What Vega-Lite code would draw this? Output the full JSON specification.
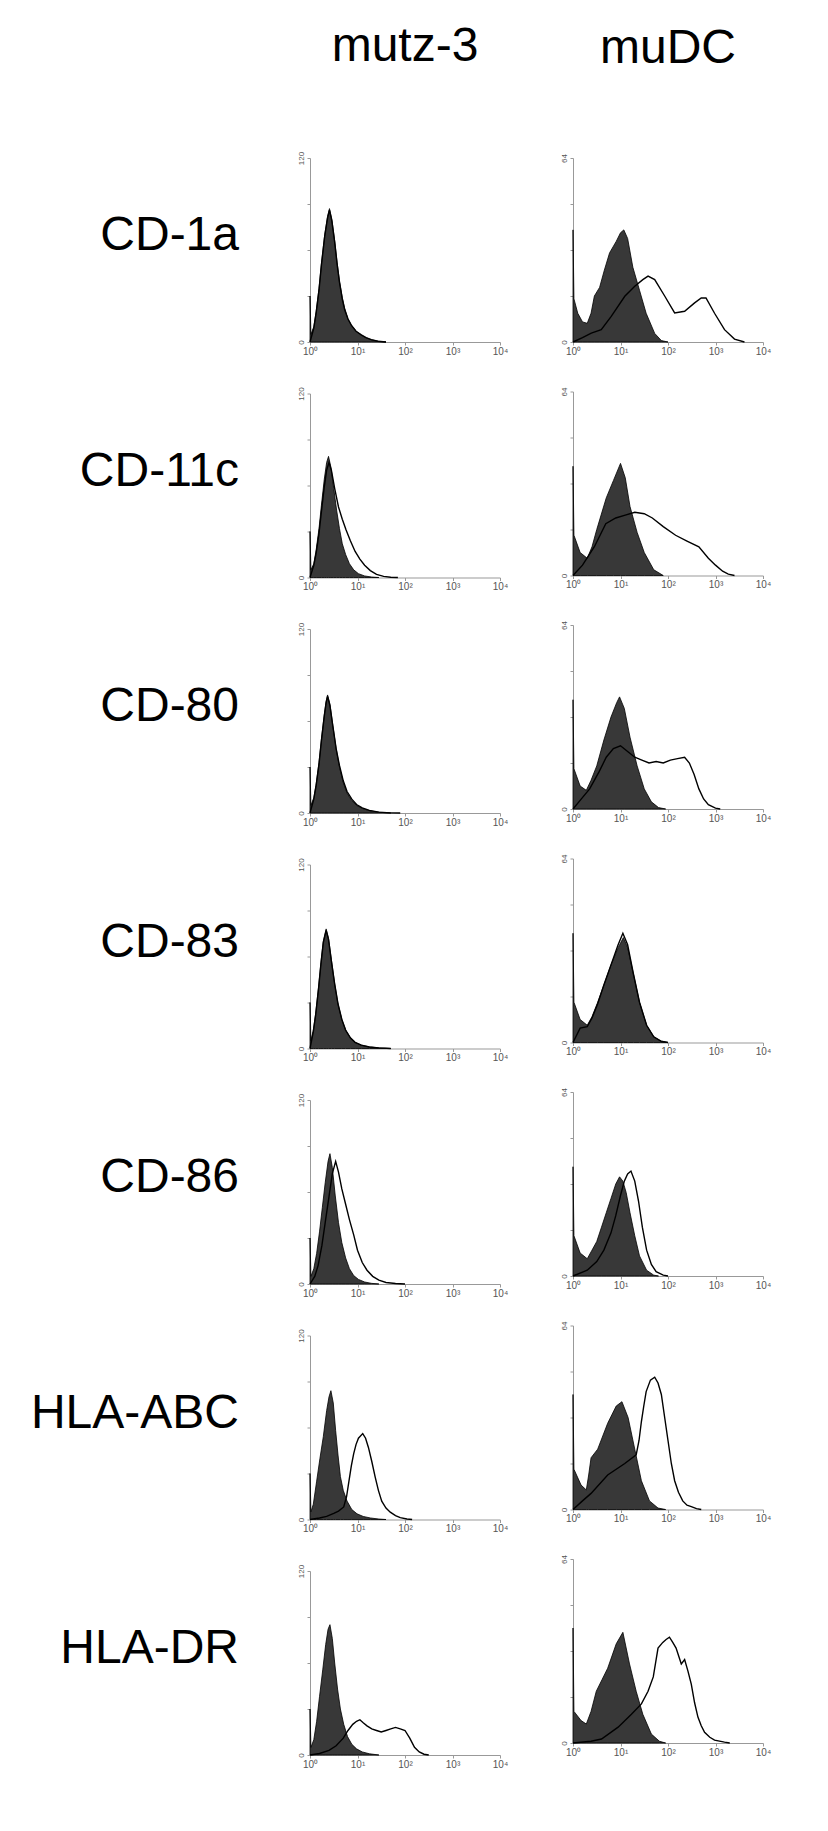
{
"$schema": "https://vega.github.io/schema/vega-lite/v6.json",
"background": "white",
"padding": {"left": 30, "top": 23, "right": 5, "bottom": 5},
"config": {"view": {"stroke": null}, "font": "Liberation Sans"},
"datasets": {
"mutz": [
{"cell":"mutz-3","marker":"CD-1a","series":"iso","x":0,"y":30},{"cell":"mutz-3","marker":"CD-1a","series":"iso","x":0.02,"y":5},{"cell":"mutz-3","marker":"CD-1a","series":"iso","x":0.08,"y":10},{"cell":"mutz-3","marker":"CD-1a","series":"iso","x":0.13,"y":20},{"cell":"mutz-3","marker":"CD-1a","series":"iso","x":0.19,"y":35},{"cell":"mutz-3","marker":"CD-1a","series":"iso","x":0.24,"y":51},{"cell":"mutz-3","marker":"CD-1a","series":"iso","x":0.31,"y":70},{"cell":"mutz-3","marker":"CD-1a","series":"iso","x":0.37,"y":82},{"cell":"mutz-3","marker":"CD-1a","series":"iso","x":0.41,"y":87},{"cell":"mutz-3","marker":"CD-1a","series":"iso","x":0.46,"y":80},{"cell":"mutz-3","marker":"CD-1a","series":"iso","x":0.52,"y":66},{"cell":"mutz-3","marker":"CD-1a","series":"iso","x":0.57,"y":52},{"cell":"mutz-3","marker":"CD-1a","series":"iso","x":0.62,"y":40},{"cell":"mutz-3","marker":"CD-1a","series":"iso","x":0.68,"y":29},{"cell":"mutz-3","marker":"CD-1a","series":"iso","x":0.73,"y":22},{"cell":"mutz-3","marker":"CD-1a","series":"iso","x":0.8,"y":15},{"cell":"mutz-3","marker":"CD-1a","series":"iso","x":0.87,"y":11},{"cell":"mutz-3","marker":"CD-1a","series":"iso","x":0.97,"y":7},{"cell":"mutz-3","marker":"CD-1a","series":"iso","x":1.08,"y":4.6},{"cell":"mutz-3","marker":"CD-1a","series":"iso","x":1.18,"y":2.8},{"cell":"mutz-3","marker":"CD-1a","series":"iso","x":1.29,"y":1.5},{"cell":"mutz-3","marker":"CD-1a","series":"iso","x":1.43,"y":0.5},{"cell":"mutz-3","marker":"CD-1a","series":"iso","x":1.6,"y":0},
{"cell":"mutz-3","marker":"CD-1a","series":"stain","x":0,"y":0},{"cell":"mutz-3","marker":"CD-1a","series":"stain","x":0.08,"y":9},{"cell":"mutz-3","marker":"CD-1a","series":"stain","x":0.13,"y":19},{"cell":"mutz-3","marker":"CD-1a","series":"stain","x":0.19,"y":34},{"cell":"mutz-3","marker":"CD-1a","series":"stain","x":0.24,"y":50},{"cell":"mutz-3","marker":"CD-1a","series":"stain","x":0.31,"y":69},{"cell":"mutz-3","marker":"CD-1a","series":"stain","x":0.37,"y":81},{"cell":"mutz-3","marker":"CD-1a","series":"stain","x":0.41,"y":86},{"cell":"mutz-3","marker":"CD-1a","series":"stain","x":0.46,"y":79},{"cell":"mutz-3","marker":"CD-1a","series":"stain","x":0.52,"y":65},{"cell":"mutz-3","marker":"CD-1a","series":"stain","x":0.57,"y":51},{"cell":"mutz-3","marker":"CD-1a","series":"stain","x":0.62,"y":39},{"cell":"mutz-3","marker":"CD-1a","series":"stain","x":0.68,"y":28},{"cell":"mutz-3","marker":"CD-1a","series":"stain","x":0.73,"y":21},{"cell":"mutz-3","marker":"CD-1a","series":"stain","x":0.8,"y":15},{"cell":"mutz-3","marker":"CD-1a","series":"stain","x":0.87,"y":11},{"cell":"mutz-3","marker":"CD-1a","series":"stain","x":0.97,"y":7},{"cell":"mutz-3","marker":"CD-1a","series":"stain","x":1.08,"y":4.6},{"cell":"mutz-3","marker":"CD-1a","series":"stain","x":1.18,"y":2.8},{"cell":"mutz-3","marker":"CD-1a","series":"stain","x":1.29,"y":1.5},{"cell":"mutz-3","marker":"CD-1a","series":"stain","x":1.43,"y":0.5},{"cell":"mutz-3","marker":"CD-1a","series":"stain","x":1.6,"y":0},
{"cell":"mutz-3","marker":"CD-11c","series":"iso","x":0,"y":30},{"cell":"mutz-3","marker":"CD-11c","series":"iso","x":0.02,"y":5},{"cell":"mutz-3","marker":"CD-11c","series":"iso","x":0.08,"y":9},{"cell":"mutz-3","marker":"CD-11c","series":"iso","x":0.13,"y":18},{"cell":"mutz-3","marker":"CD-11c","series":"iso","x":0.19,"y":32},{"cell":"mutz-3","marker":"CD-11c","series":"iso","x":0.24,"y":47},{"cell":"mutz-3","marker":"CD-11c","series":"iso","x":0.3,"y":64},{"cell":"mutz-3","marker":"CD-11c","series":"iso","x":0.35,"y":75},{"cell":"mutz-3","marker":"CD-11c","series":"iso","x":0.39,"y":79},{"cell":"mutz-3","marker":"CD-11c","series":"iso","x":0.44,"y":72},{"cell":"mutz-3","marker":"CD-11c","series":"iso","x":0.5,"y":58},{"cell":"mutz-3","marker":"CD-11c","series":"iso","x":0.56,"y":44},{"cell":"mutz-3","marker":"CD-11c","series":"iso","x":0.62,"y":32},{"cell":"mutz-3","marker":"CD-11c","series":"iso","x":0.68,"y":22},{"cell":"mutz-3","marker":"CD-11c","series":"iso","x":0.75,"y":15},{"cell":"mutz-3","marker":"CD-11c","series":"iso","x":0.83,"y":9},{"cell":"mutz-3","marker":"CD-11c","series":"iso","x":0.92,"y":5},{"cell":"mutz-3","marker":"CD-11c","series":"iso","x":1.02,"y":2.5},{"cell":"mutz-3","marker":"CD-11c","series":"iso","x":1.15,"y":1},{"cell":"mutz-3","marker":"CD-11c","series":"iso","x":1.3,"y":0.3},{"cell":"mutz-3","marker":"CD-11c","series":"iso","x":1.45,"y":0},
{"cell":"mutz-3","marker":"CD-11c","series":"stain","x":0,"y":0},{"cell":"mutz-3","marker":"CD-11c","series":"stain","x":0.08,"y":8},{"cell":"mutz-3","marker":"CD-11c","series":"stain","x":0.13,"y":16},{"cell":"mutz-3","marker":"CD-11c","series":"stain","x":0.19,"y":29},{"cell":"mutz-3","marker":"CD-11c","series":"stain","x":0.24,"y":43},{"cell":"mutz-3","marker":"CD-11c","series":"stain","x":0.3,"y":59},{"cell":"mutz-3","marker":"CD-11c","series":"stain","x":0.35,"y":70},{"cell":"mutz-3","marker":"CD-11c","series":"stain","x":0.4,"y":75},{"cell":"mutz-3","marker":"CD-11c","series":"stain","x":0.45,"y":70},{"cell":"mutz-3","marker":"CD-11c","series":"stain","x":0.52,"y":58},{"cell":"mutz-3","marker":"CD-11c","series":"stain","x":0.6,"y":46},{"cell":"mutz-3","marker":"CD-11c","series":"stain","x":0.68,"y":38},{"cell":"mutz-3","marker":"CD-11c","series":"stain","x":0.76,"y":31},{"cell":"mutz-3","marker":"CD-11c","series":"stain","x":0.85,"y":24},{"cell":"mutz-3","marker":"CD-11c","series":"stain","x":0.95,"y":17},{"cell":"mutz-3","marker":"CD-11c","series":"stain","x":1.05,"y":12},{"cell":"mutz-3","marker":"CD-11c","series":"stain","x":1.15,"y":8},{"cell":"mutz-3","marker":"CD-11c","series":"stain","x":1.27,"y":4.5},{"cell":"mutz-3","marker":"CD-11c","series":"stain","x":1.4,"y":2},{"cell":"mutz-3","marker":"CD-11c","series":"stain","x":1.55,"y":0.7},{"cell":"mutz-3","marker":"CD-11c","series":"stain","x":1.7,"y":0.2},{"cell":"mutz-3","marker":"CD-11c","series":"stain","x":1.85,"y":0},
{"cell":"mutz-3","marker":"CD-80","series":"iso","x":0,"y":30},{"cell":"mutz-3","marker":"CD-80","series":"iso","x":0.02,"y":5},{"cell":"mutz-3","marker":"CD-80","series":"iso","x":0.08,"y":10},{"cell":"mutz-3","marker":"CD-80","series":"iso","x":0.13,"y":19},{"cell":"mutz-3","marker":"CD-80","series":"iso","x":0.19,"y":33},{"cell":"mutz-3","marker":"CD-80","series":"iso","x":0.24,"y":48},{"cell":"mutz-3","marker":"CD-80","series":"iso","x":0.3,"y":64},{"cell":"mutz-3","marker":"CD-80","series":"iso","x":0.34,"y":73},{"cell":"mutz-3","marker":"CD-80","series":"iso","x":0.37,"y":77},{"cell":"mutz-3","marker":"CD-80","series":"iso","x":0.42,"y":71},{"cell":"mutz-3","marker":"CD-80","series":"iso","x":0.48,"y":57},{"cell":"mutz-3","marker":"CD-80","series":"iso","x":0.55,"y":42},{"cell":"mutz-3","marker":"CD-80","series":"iso","x":0.62,"y":30},{"cell":"mutz-3","marker":"CD-80","series":"iso","x":0.7,"y":20},{"cell":"mutz-3","marker":"CD-80","series":"iso","x":0.78,"y":13},{"cell":"mutz-3","marker":"CD-80","series":"iso","x":0.88,"y":8},{"cell":"mutz-3","marker":"CD-80","series":"iso","x":0.98,"y":5},{"cell":"mutz-3","marker":"CD-80","series":"iso","x":1.1,"y":3},{"cell":"mutz-3","marker":"CD-80","series":"iso","x":1.25,"y":1.5},{"cell":"mutz-3","marker":"CD-80","series":"iso","x":1.45,"y":0.5},{"cell":"mutz-3","marker":"CD-80","series":"iso","x":1.7,"y":0},
{"cell":"mutz-3","marker":"CD-80","series":"stain","x":0,"y":0},{"cell":"mutz-3","marker":"CD-80","series":"stain","x":0.08,"y":9},{"cell":"mutz-3","marker":"CD-80","series":"stain","x":0.13,"y":18},{"cell":"mutz-3","marker":"CD-80","series":"stain","x":0.19,"y":32},{"cell":"mutz-3","marker":"CD-80","series":"stain","x":0.24,"y":47},{"cell":"mutz-3","marker":"CD-80","series":"stain","x":0.3,"y":63},{"cell":"mutz-3","marker":"CD-80","series":"stain","x":0.34,"y":72},{"cell":"mutz-3","marker":"CD-80","series":"stain","x":0.37,"y":76},{"cell":"mutz-3","marker":"CD-80","series":"stain","x":0.42,"y":70},{"cell":"mutz-3","marker":"CD-80","series":"stain","x":0.48,"y":57},{"cell":"mutz-3","marker":"CD-80","series":"stain","x":0.55,"y":42},{"cell":"mutz-3","marker":"CD-80","series":"stain","x":0.62,"y":31},{"cell":"mutz-3","marker":"CD-80","series":"stain","x":0.7,"y":21},{"cell":"mutz-3","marker":"CD-80","series":"stain","x":0.78,"y":14},{"cell":"mutz-3","marker":"CD-80","series":"stain","x":0.88,"y":9},{"cell":"mutz-3","marker":"CD-80","series":"stain","x":0.98,"y":5.5},{"cell":"mutz-3","marker":"CD-80","series":"stain","x":1.1,"y":3.3},{"cell":"mutz-3","marker":"CD-80","series":"stain","x":1.25,"y":1.7},{"cell":"mutz-3","marker":"CD-80","series":"stain","x":1.45,"y":0.6},{"cell":"mutz-3","marker":"CD-80","series":"stain","x":1.7,"y":0.1},{"cell":"mutz-3","marker":"CD-80","series":"stain","x":1.9,"y":0},
{"cell":"mutz-3","marker":"CD-83","series":"iso","x":0,"y":30},{"cell":"mutz-3","marker":"CD-83","series":"iso","x":0.02,"y":5},{"cell":"mutz-3","marker":"CD-83","series":"iso","x":0.07,"y":12},{"cell":"mutz-3","marker":"CD-83","series":"iso","x":0.12,"y":23},{"cell":"mutz-3","marker":"CD-83","series":"iso","x":0.18,"y":40},{"cell":"mutz-3","marker":"CD-83","series":"iso","x":0.23,"y":56},{"cell":"mutz-3","marker":"CD-83","series":"iso","x":0.28,"y":70},{"cell":"mutz-3","marker":"CD-83","series":"iso","x":0.34,"y":78},{"cell":"mutz-3","marker":"CD-83","series":"iso","x":0.39,"y":72},{"cell":"mutz-3","marker":"CD-83","series":"iso","x":0.45,"y":58},{"cell":"mutz-3","marker":"CD-83","series":"iso","x":0.52,"y":42},{"cell":"mutz-3","marker":"CD-83","series":"iso","x":0.59,"y":29},{"cell":"mutz-3","marker":"CD-83","series":"iso","x":0.67,"y":19},{"cell":"mutz-3","marker":"CD-83","series":"iso","x":0.75,"y":12},{"cell":"mutz-3","marker":"CD-83","series":"iso","x":0.85,"y":7},{"cell":"mutz-3","marker":"CD-83","series":"iso","x":0.95,"y":4},{"cell":"mutz-3","marker":"CD-83","series":"iso","x":1.08,"y":2.2},{"cell":"mutz-3","marker":"CD-83","series":"iso","x":1.25,"y":1},{"cell":"mutz-3","marker":"CD-83","series":"iso","x":1.45,"y":0.4},{"cell":"mutz-3","marker":"CD-83","series":"iso","x":1.7,"y":0},
{"cell":"mutz-3","marker":"CD-83","series":"stain","x":0,"y":0},{"cell":"mutz-3","marker":"CD-83","series":"stain","x":0.07,"y":11},{"cell":"mutz-3","marker":"CD-83","series":"stain","x":0.12,"y":22},{"cell":"mutz-3","marker":"CD-83","series":"stain","x":0.18,"y":39},{"cell":"mutz-3","marker":"CD-83","series":"stain","x":0.23,"y":55},{"cell":"mutz-3","marker":"CD-83","series":"stain","x":0.28,"y":69},{"cell":"mutz-3","marker":"CD-83","series":"stain","x":0.34,"y":77},{"cell":"mutz-3","marker":"CD-83","series":"stain","x":0.39,"y":71},{"cell":"mutz-3","marker":"CD-83","series":"stain","x":0.45,"y":57},{"cell":"mutz-3","marker":"CD-83","series":"stain","x":0.52,"y":42},{"cell":"mutz-3","marker":"CD-83","series":"stain","x":0.59,"y":29},{"cell":"mutz-3","marker":"CD-83","series":"stain","x":0.67,"y":19},{"cell":"mutz-3","marker":"CD-83","series":"stain","x":0.75,"y":12},{"cell":"mutz-3","marker":"CD-83","series":"stain","x":0.85,"y":7},{"cell":"mutz-3","marker":"CD-83","series":"stain","x":0.95,"y":4},{"cell":"mutz-3","marker":"CD-83","series":"stain","x":1.08,"y":2.2},{"cell":"mutz-3","marker":"CD-83","series":"stain","x":1.25,"y":1},{"cell":"mutz-3","marker":"CD-83","series":"stain","x":1.45,"y":0.4},{"cell":"mutz-3","marker":"CD-83","series":"stain","x":1.7,"y":0},
{"cell":"mutz-3","marker":"CD-86","series":"iso","x":0,"y":30},{"cell":"mutz-3","marker":"CD-86","series":"iso","x":0.02,"y":5},{"cell":"mutz-3","marker":"CD-86","series":"iso","x":0.08,"y":10},{"cell":"mutz-3","marker":"CD-86","series":"iso","x":0.14,"y":20},{"cell":"mutz-3","marker":"CD-86","series":"iso","x":0.2,"y":34},{"cell":"mutz-3","marker":"CD-86","series":"iso","x":0.26,"y":50},{"cell":"mutz-3","marker":"CD-86","series":"iso","x":0.32,"y":66},{"cell":"mutz-3","marker":"CD-86","series":"iso","x":0.38,"y":80},{"cell":"mutz-3","marker":"CD-86","series":"iso","x":0.42,"y":85},{"cell":"mutz-3","marker":"CD-86","series":"iso","x":0.47,"y":76},{"cell":"mutz-3","marker":"CD-86","series":"iso","x":0.53,"y":58},{"cell":"mutz-3","marker":"CD-86","series":"iso","x":0.6,"y":40},{"cell":"mutz-3","marker":"CD-86","series":"iso","x":0.67,"y":27},{"cell":"mutz-3","marker":"CD-86","series":"iso","x":0.75,"y":17},{"cell":"mutz-3","marker":"CD-86","series":"iso","x":0.83,"y":10},{"cell":"mutz-3","marker":"CD-86","series":"iso","x":0.92,"y":5.5},{"cell":"mutz-3","marker":"CD-86","series":"iso","x":1.02,"y":3},{"cell":"mutz-3","marker":"CD-86","series":"iso","x":1.15,"y":1.3},{"cell":"mutz-3","marker":"CD-86","series":"iso","x":1.3,"y":0.4},{"cell":"mutz-3","marker":"CD-86","series":"iso","x":1.45,"y":0},
{"cell":"mutz-3","marker":"CD-86","series":"stain","x":0,"y":0},{"cell":"mutz-3","marker":"CD-86","series":"stain","x":0.1,"y":5},{"cell":"mutz-3","marker":"CD-86","series":"stain","x":0.17,"y":12},{"cell":"mutz-3","marker":"CD-86","series":"stain","x":0.25,"y":25},{"cell":"mutz-3","marker":"CD-86","series":"stain","x":0.32,"y":40},{"cell":"mutz-3","marker":"CD-86","series":"stain","x":0.4,"y":57},{"cell":"mutz-3","marker":"CD-86","series":"stain","x":0.47,"y":72},{"cell":"mutz-3","marker":"CD-86","series":"stain","x":0.54,"y":80},{"cell":"mutz-3","marker":"CD-86","series":"stain","x":0.6,"y":73},{"cell":"mutz-3","marker":"CD-86","series":"stain","x":0.67,"y":62},{"cell":"mutz-3","marker":"CD-86","series":"stain","x":0.75,"y":52},{"cell":"mutz-3","marker":"CD-86","series":"stain","x":0.83,"y":42},{"cell":"mutz-3","marker":"CD-86","series":"stain","x":0.92,"y":32},{"cell":"mutz-3","marker":"CD-86","series":"stain","x":1.0,"y":22},{"cell":"mutz-3","marker":"CD-86","series":"stain","x":1.1,"y":14},{"cell":"mutz-3","marker":"CD-86","series":"stain","x":1.2,"y":9},{"cell":"mutz-3","marker":"CD-86","series":"stain","x":1.32,"y":5},{"cell":"mutz-3","marker":"CD-86","series":"stain","x":1.45,"y":2.5},{"cell":"mutz-3","marker":"CD-86","series":"stain","x":1.6,"y":1},{"cell":"mutz-3","marker":"CD-86","series":"stain","x":1.8,"y":0.3},{"cell":"mutz-3","marker":"CD-86","series":"stain","x":2.0,"y":0},
{"cell":"mutz-3","marker":"HLA-ABC","series":"iso","x":0,"y":30},{"cell":"mutz-3","marker":"HLA-ABC","series":"iso","x":0.02,"y":5},{"cell":"mutz-3","marker":"HLA-ABC","series":"iso","x":0.07,"y":10},{"cell":"mutz-3","marker":"HLA-ABC","series":"iso","x":0.14,"y":25},{"cell":"mutz-3","marker":"HLA-ABC","series":"iso","x":0.21,"y":40},{"cell":"mutz-3","marker":"HLA-ABC","series":"iso","x":0.28,"y":54},{"cell":"mutz-3","marker":"HLA-ABC","series":"iso","x":0.35,"y":71},{"cell":"mutz-3","marker":"HLA-ABC","series":"iso","x":0.4,"y":80},{"cell":"mutz-3","marker":"HLA-ABC","series":"iso","x":0.44,"y":84},{"cell":"mutz-3","marker":"HLA-ABC","series":"iso","x":0.49,"y":76},{"cell":"mutz-3","marker":"HLA-ABC","series":"iso","x":0.54,"y":58},{"cell":"mutz-3","marker":"HLA-ABC","series":"iso","x":0.59,"y":42},{"cell":"mutz-3","marker":"HLA-ABC","series":"iso","x":0.64,"y":28},{"cell":"mutz-3","marker":"HLA-ABC","series":"iso","x":0.7,"y":19},{"cell":"mutz-3","marker":"HLA-ABC","series":"iso","x":0.78,"y":12},{"cell":"mutz-3","marker":"HLA-ABC","series":"iso","x":0.88,"y":6.5},{"cell":"mutz-3","marker":"HLA-ABC","series":"iso","x":0.99,"y":3.7},{"cell":"mutz-3","marker":"HLA-ABC","series":"iso","x":1.12,"y":2},{"cell":"mutz-3","marker":"HLA-ABC","series":"iso","x":1.27,"y":1},{"cell":"mutz-3","marker":"HLA-ABC","series":"iso","x":1.45,"y":0.3},{"cell":"mutz-3","marker":"HLA-ABC","series":"iso","x":1.6,"y":0},
{"cell":"mutz-3","marker":"HLA-ABC","series":"stain","x":0,"y":0},{"cell":"mutz-3","marker":"HLA-ABC","series":"stain","x":0.2,"y":1},{"cell":"mutz-3","marker":"HLA-ABC","series":"stain","x":0.35,"y":2},{"cell":"mutz-3","marker":"HLA-ABC","series":"stain","x":0.5,"y":4},{"cell":"mutz-3","marker":"HLA-ABC","series":"stain","x":0.6,"y":5.5},{"cell":"mutz-3","marker":"HLA-ABC","series":"stain","x":0.71,"y":8.2},{"cell":"mutz-3","marker":"HLA-ABC","series":"stain","x":0.77,"y":15},{"cell":"mutz-3","marker":"HLA-ABC","series":"stain","x":0.82,"y":25},{"cell":"mutz-3","marker":"HLA-ABC","series":"stain","x":0.87,"y":35},{"cell":"mutz-3","marker":"HLA-ABC","series":"stain","x":0.92,"y":43},{"cell":"mutz-3","marker":"HLA-ABC","series":"stain","x":0.97,"y":49},{"cell":"mutz-3","marker":"HLA-ABC","series":"stain","x":1.02,"y":53},{"cell":"mutz-3","marker":"HLA-ABC","series":"stain","x":1.11,"y":56},{"cell":"mutz-3","marker":"HLA-ABC","series":"stain","x":1.17,"y":53},{"cell":"mutz-3","marker":"HLA-ABC","series":"stain","x":1.23,"y":47},{"cell":"mutz-3","marker":"HLA-ABC","series":"stain","x":1.3,"y":38},{"cell":"mutz-3","marker":"HLA-ABC","series":"stain","x":1.37,"y":28},{"cell":"mutz-3","marker":"HLA-ABC","series":"stain","x":1.44,"y":19},{"cell":"mutz-3","marker":"HLA-ABC","series":"stain","x":1.51,"y":12},{"cell":"mutz-3","marker":"HLA-ABC","series":"stain","x":1.6,"y":7.5},{"cell":"mutz-3","marker":"HLA-ABC","series":"stain","x":1.69,"y":4.8},{"cell":"mutz-3","marker":"HLA-ABC","series":"stain","x":1.8,"y":2.5},{"cell":"mutz-3","marker":"HLA-ABC","series":"stain","x":1.9,"y":1.2},{"cell":"mutz-3","marker":"HLA-ABC","series":"stain","x":2.04,"y":0.3},{"cell":"mutz-3","marker":"HLA-ABC","series":"stain","x":2.15,"y":0},
{"cell":"mutz-3","marker":"HLA-DR","series":"iso","x":0,"y":30},{"cell":"mutz-3","marker":"HLA-DR","series":"iso","x":0.02,"y":5},{"cell":"mutz-3","marker":"HLA-DR","series":"iso","x":0.08,"y":10},{"cell":"mutz-3","marker":"HLA-DR","series":"iso","x":0.14,"y":22},{"cell":"mutz-3","marker":"HLA-DR","series":"iso","x":0.2,"y":38},{"cell":"mutz-3","marker":"HLA-DR","series":"iso","x":0.27,"y":56},{"cell":"mutz-3","marker":"HLA-DR","series":"iso","x":0.33,"y":72},{"cell":"mutz-3","marker":"HLA-DR","series":"iso","x":0.38,"y":82},{"cell":"mutz-3","marker":"HLA-DR","series":"iso","x":0.42,"y":85},{"cell":"mutz-3","marker":"HLA-DR","series":"iso","x":0.47,"y":76},{"cell":"mutz-3","marker":"HLA-DR","series":"iso","x":0.52,"y":60},{"cell":"mutz-3","marker":"HLA-DR","series":"iso","x":0.58,"y":43},{"cell":"mutz-3","marker":"HLA-DR","series":"iso","x":0.64,"y":30},{"cell":"mutz-3","marker":"HLA-DR","series":"iso","x":0.71,"y":20},{"cell":"mutz-3","marker":"HLA-DR","series":"iso","x":0.79,"y":12},{"cell":"mutz-3","marker":"HLA-DR","series":"iso","x":0.88,"y":7},{"cell":"mutz-3","marker":"HLA-DR","series":"iso","x":0.98,"y":4},{"cell":"mutz-3","marker":"HLA-DR","series":"iso","x":1.1,"y":2},{"cell":"mutz-3","marker":"HLA-DR","series":"iso","x":1.25,"y":0.8},{"cell":"mutz-3","marker":"HLA-DR","series":"iso","x":1.45,"y":0},
{"cell":"mutz-3","marker":"HLA-DR","series":"stain","x":0,"y":0},{"cell":"mutz-3","marker":"HLA-DR","series":"stain","x":0.2,"y":1},{"cell":"mutz-3","marker":"HLA-DR","series":"stain","x":0.4,"y":3},{"cell":"mutz-3","marker":"HLA-DR","series":"stain","x":0.55,"y":6},{"cell":"mutz-3","marker":"HLA-DR","series":"stain","x":0.7,"y":11},{"cell":"mutz-3","marker":"HLA-DR","series":"stain","x":0.8,"y":16},{"cell":"mutz-3","marker":"HLA-DR","series":"stain","x":0.9,"y":20},{"cell":"mutz-3","marker":"HLA-DR","series":"stain","x":0.98,"y":22},{"cell":"mutz-3","marker":"HLA-DR","series":"stain","x":1.05,"y":23},{"cell":"mutz-3","marker":"HLA-DR","series":"stain","x":1.12,"y":21},{"cell":"mutz-3","marker":"HLA-DR","series":"stain","x":1.2,"y":19},{"cell":"mutz-3","marker":"HLA-DR","series":"stain","x":1.3,"y":17},{"cell":"mutz-3","marker":"HLA-DR","series":"stain","x":1.4,"y":16},{"cell":"mutz-3","marker":"HLA-DR","series":"stain","x":1.5,"y":15},{"cell":"mutz-3","marker":"HLA-DR","series":"stain","x":1.6,"y":16},{"cell":"mutz-3","marker":"HLA-DR","series":"stain","x":1.7,"y":17},{"cell":"mutz-3","marker":"HLA-DR","series":"stain","x":1.8,"y":18},{"cell":"mutz-3","marker":"HLA-DR","series":"stain","x":1.9,"y":17},{"cell":"mutz-3","marker":"HLA-DR","series":"stain","x":2.0,"y":16},{"cell":"mutz-3","marker":"HLA-DR","series":"stain","x":2.1,"y":11},{"cell":"mutz-3","marker":"HLA-DR","series":"stain","x":2.2,"y":5},{"cell":"mutz-3","marker":"HLA-DR","series":"stain","x":2.3,"y":2},{"cell":"mutz-3","marker":"HLA-DR","series":"stain","x":2.4,"y":0.5},{"cell":"mutz-3","marker":"HLA-DR","series":"stain","x":2.5,"y":0}
],
"mudc": [
{"cell":"muDC","marker":"CD-1a","series":"iso","x":0,"y":39},{"cell":"muDC","marker":"CD-1a","series":"iso","x":0.02,"y":15},{"cell":"muDC","marker":"CD-1a","series":"iso","x":0.1,"y":10},{"cell":"muDC","marker":"CD-1a","series":"iso","x":0.2,"y":7},{"cell":"muDC","marker":"CD-1a","series":"iso","x":0.3,"y":6.5},{"cell":"muDC","marker":"CD-1a","series":"iso","x":0.38,"y":10},{"cell":"muDC","marker":"CD-1a","series":"iso","x":0.45,"y":16},{"cell":"muDC","marker":"CD-1a","series":"iso","x":0.56,"y":19},{"cell":"muDC","marker":"CD-1a","series":"iso","x":0.66,"y":25},{"cell":"muDC","marker":"CD-1a","series":"iso","x":0.77,"y":31},{"cell":"muDC","marker":"CD-1a","series":"iso","x":0.91,"y":35},{"cell":"muDC","marker":"CD-1a","series":"iso","x":1.0,"y":38},{"cell":"muDC","marker":"CD-1a","series":"iso","x":1.07,"y":39},{"cell":"muDC","marker":"CD-1a","series":"iso","x":1.15,"y":36},{"cell":"muDC","marker":"CD-1a","series":"iso","x":1.26,"y":26},{"cell":"muDC","marker":"CD-1a","series":"iso","x":1.4,"y":18},{"cell":"muDC","marker":"CD-1a","series":"iso","x":1.54,"y":10},{"cell":"muDC","marker":"CD-1a","series":"iso","x":1.72,"y":3},{"cell":"muDC","marker":"CD-1a","series":"iso","x":1.86,"y":0.5},{"cell":"muDC","marker":"CD-1a","series":"iso","x":2.0,"y":0},
{"cell":"muDC","marker":"CD-1a","series":"stain","x":0,"y":0},{"cell":"muDC","marker":"CD-1a","series":"stain","x":0.2,"y":1.5},{"cell":"muDC","marker":"CD-1a","series":"stain","x":0.385,"y":3.1},{"cell":"muDC","marker":"CD-1a","series":"stain","x":0.595,"y":4.3},{"cell":"muDC","marker":"CD-1a","series":"stain","x":0.805,"y":8.9},{"cell":"muDC","marker":"CD-1a","series":"stain","x":1.09,"y":15.9},{"cell":"muDC","marker":"CD-1a","series":"stain","x":1.3,"y":19.4},{"cell":"muDC","marker":"CD-1a","series":"stain","x":1.47,"y":21.7},{"cell":"muDC","marker":"CD-1a","series":"stain","x":1.58,"y":22.9},{"cell":"muDC","marker":"CD-1a","series":"stain","x":1.72,"y":21.7},{"cell":"muDC","marker":"CD-1a","series":"stain","x":1.93,"y":16},{"cell":"muDC","marker":"CD-1a","series":"stain","x":2.14,"y":10.1},{"cell":"muDC","marker":"CD-1a","series":"stain","x":2.35,"y":10.7},{"cell":"muDC","marker":"CD-1a","series":"stain","x":2.56,"y":13.6},{"cell":"muDC","marker":"CD-1a","series":"stain","x":2.7,"y":15.3},{"cell":"muDC","marker":"CD-1a","series":"stain","x":2.8,"y":15.3},{"cell":"muDC","marker":"CD-1a","series":"stain","x":2.98,"y":10},{"cell":"muDC","marker":"CD-1a","series":"stain","x":3.19,"y":4.3},{"cell":"muDC","marker":"CD-1a","series":"stain","x":3.4,"y":1},{"cell":"muDC","marker":"CD-1a","series":"stain","x":3.61,"y":0},
{"cell":"muDC","marker":"CD-11c","series":"iso","x":0,"y":38},{"cell":"muDC","marker":"CD-11c","series":"iso","x":0.02,"y":14},{"cell":"muDC","marker":"CD-11c","series":"iso","x":0.15,"y":8},{"cell":"muDC","marker":"CD-11c","series":"iso","x":0.3,"y":6},{"cell":"muDC","marker":"CD-11c","series":"iso","x":0.4,"y":10},{"cell":"muDC","marker":"CD-11c","series":"iso","x":0.5,"y":16},{"cell":"muDC","marker":"CD-11c","series":"iso","x":0.7,"y":27},{"cell":"muDC","marker":"CD-11c","series":"iso","x":0.85,"y":33},{"cell":"muDC","marker":"CD-11c","series":"iso","x":1.0,"y":39},{"cell":"muDC","marker":"CD-11c","series":"iso","x":1.1,"y":34},{"cell":"muDC","marker":"CD-11c","series":"iso","x":1.2,"y":24},{"cell":"muDC","marker":"CD-11c","series":"iso","x":1.35,"y":15},{"cell":"muDC","marker":"CD-11c","series":"iso","x":1.5,"y":8},{"cell":"muDC","marker":"CD-11c","series":"iso","x":1.7,"y":2},{"cell":"muDC","marker":"CD-11c","series":"iso","x":1.9,"y":0},
{"cell":"muDC","marker":"CD-11c","series":"stain","x":0,"y":0},{"cell":"muDC","marker":"CD-11c","series":"stain","x":0.2,"y":3.6},{"cell":"muDC","marker":"CD-11c","series":"stain","x":0.45,"y":10},{"cell":"muDC","marker":"CD-11c","series":"stain","x":0.69,"y":18},{"cell":"muDC","marker":"CD-11c","series":"stain","x":0.9,"y":20},{"cell":"muDC","marker":"CD-11c","series":"stain","x":1.1,"y":21},{"cell":"muDC","marker":"CD-11c","series":"stain","x":1.3,"y":22},{"cell":"muDC","marker":"CD-11c","series":"stain","x":1.5,"y":21.5},{"cell":"muDC","marker":"CD-11c","series":"stain","x":1.67,"y":20},{"cell":"muDC","marker":"CD-11c","series":"stain","x":1.9,"y":17},{"cell":"muDC","marker":"CD-11c","series":"stain","x":2.16,"y":14},{"cell":"muDC","marker":"CD-11c","series":"stain","x":2.4,"y":12},{"cell":"muDC","marker":"CD-11c","series":"stain","x":2.65,"y":10},{"cell":"muDC","marker":"CD-11c","series":"stain","x":2.85,"y":6},{"cell":"muDC","marker":"CD-11c","series":"stain","x":3.0,"y":3.6},{"cell":"muDC","marker":"CD-11c","series":"stain","x":3.15,"y":1.5},{"cell":"muDC","marker":"CD-11c","series":"stain","x":3.27,"y":0.5},{"cell":"muDC","marker":"CD-11c","series":"stain","x":3.4,"y":0},
{"cell":"muDC","marker":"CD-80","series":"iso","x":0,"y":38},{"cell":"muDC","marker":"CD-80","series":"iso","x":0.02,"y":14},{"cell":"muDC","marker":"CD-80","series":"iso","x":0.15,"y":8},{"cell":"muDC","marker":"CD-80","series":"iso","x":0.28,"y":6.5},{"cell":"muDC","marker":"CD-80","series":"iso","x":0.38,"y":10},{"cell":"muDC","marker":"CD-80","series":"iso","x":0.5,"y":15},{"cell":"muDC","marker":"CD-80","series":"iso","x":0.65,"y":24},{"cell":"muDC","marker":"CD-80","series":"iso","x":0.8,"y":32},{"cell":"muDC","marker":"CD-80","series":"iso","x":0.92,"y":37},{"cell":"muDC","marker":"CD-80","series":"iso","x":0.98,"y":39},{"cell":"muDC","marker":"CD-80","series":"iso","x":1.08,"y":35},{"cell":"muDC","marker":"CD-80","series":"iso","x":1.2,"y":25},{"cell":"muDC","marker":"CD-80","series":"iso","x":1.35,"y":15},{"cell":"muDC","marker":"CD-80","series":"iso","x":1.5,"y":7},{"cell":"muDC","marker":"CD-80","series":"iso","x":1.65,"y":2.5},{"cell":"muDC","marker":"CD-80","series":"iso","x":1.8,"y":0.5},{"cell":"muDC","marker":"CD-80","series":"iso","x":1.95,"y":0},
{"cell":"muDC","marker":"CD-80","series":"stain","x":0,"y":0},{"cell":"muDC","marker":"CD-80","series":"stain","x":0.15,"y":3},{"cell":"muDC","marker":"CD-80","series":"stain","x":0.35,"y":7},{"cell":"muDC","marker":"CD-80","series":"stain","x":0.55,"y":13},{"cell":"muDC","marker":"CD-80","series":"stain","x":0.7,"y":18},{"cell":"muDC","marker":"CD-80","series":"stain","x":0.85,"y":21},{"cell":"muDC","marker":"CD-80","series":"stain","x":1.0,"y":22},{"cell":"muDC","marker":"CD-80","series":"stain","x":1.15,"y":20},{"cell":"muDC","marker":"CD-80","series":"stain","x":1.3,"y":18},{"cell":"muDC","marker":"CD-80","series":"stain","x":1.45,"y":17},{"cell":"muDC","marker":"CD-80","series":"stain","x":1.6,"y":16},{"cell":"muDC","marker":"CD-80","series":"stain","x":1.75,"y":16.5},{"cell":"muDC","marker":"CD-80","series":"stain","x":1.9,"y":16},{"cell":"muDC","marker":"CD-80","series":"stain","x":2.05,"y":17},{"cell":"muDC","marker":"CD-80","series":"stain","x":2.2,"y":17.5},{"cell":"muDC","marker":"CD-80","series":"stain","x":2.35,"y":18},{"cell":"muDC","marker":"CD-80","series":"stain","x":2.45,"y":16},{"cell":"muDC","marker":"CD-80","series":"stain","x":2.55,"y":12},{"cell":"muDC","marker":"CD-80","series":"stain","x":2.65,"y":7},{"cell":"muDC","marker":"CD-80","series":"stain","x":2.75,"y":3.5},{"cell":"muDC","marker":"CD-80","series":"stain","x":2.85,"y":1.5},{"cell":"muDC","marker":"CD-80","series":"stain","x":3.0,"y":0.3},{"cell":"muDC","marker":"CD-80","series":"stain","x":3.1,"y":0},
{"cell":"muDC","marker":"CD-83","series":"iso","x":0,"y":38},{"cell":"muDC","marker":"CD-83","series":"iso","x":0.02,"y":14},{"cell":"muDC","marker":"CD-83","series":"iso","x":0.15,"y":8},{"cell":"muDC","marker":"CD-83","series":"iso","x":0.3,"y":6},{"cell":"muDC","marker":"CD-83","series":"iso","x":0.4,"y":9},{"cell":"muDC","marker":"CD-83","series":"iso","x":0.52,"y":14},{"cell":"muDC","marker":"CD-83","series":"iso","x":0.65,"y":20},{"cell":"muDC","marker":"CD-83","series":"iso","x":0.8,"y":27},{"cell":"muDC","marker":"CD-83","series":"iso","x":0.95,"y":33},{"cell":"muDC","marker":"CD-83","series":"iso","x":1.06,"y":36.5},{"cell":"muDC","marker":"CD-83","series":"iso","x":1.15,"y":33},{"cell":"muDC","marker":"CD-83","series":"iso","x":1.27,"y":24},{"cell":"muDC","marker":"CD-83","series":"iso","x":1.4,"y":14},{"cell":"muDC","marker":"CD-83","series":"iso","x":1.55,"y":6},{"cell":"muDC","marker":"CD-83","series":"iso","x":1.7,"y":2},{"cell":"muDC","marker":"CD-83","series":"iso","x":1.85,"y":0.5},{"cell":"muDC","marker":"CD-83","series":"iso","x":2.0,"y":0},
{"cell":"muDC","marker":"CD-83","series":"stain","x":0,"y":0},{"cell":"muDC","marker":"CD-83","series":"stain","x":0.15,"y":5},{"cell":"muDC","marker":"CD-83","series":"stain","x":0.3,"y":5.5},{"cell":"muDC","marker":"CD-83","series":"stain","x":0.4,"y":8.5},{"cell":"muDC","marker":"CD-83","series":"stain","x":0.52,"y":13.5},{"cell":"muDC","marker":"CD-83","series":"stain","x":0.65,"y":20},{"cell":"muDC","marker":"CD-83","series":"stain","x":0.8,"y":27},{"cell":"muDC","marker":"CD-83","series":"stain","x":0.95,"y":34},{"cell":"muDC","marker":"CD-83","series":"stain","x":1.05,"y":38},{"cell":"muDC","marker":"CD-83","series":"stain","x":1.15,"y":34},{"cell":"muDC","marker":"CD-83","series":"stain","x":1.27,"y":24},{"cell":"muDC","marker":"CD-83","series":"stain","x":1.4,"y":14},{"cell":"muDC","marker":"CD-83","series":"stain","x":1.55,"y":6},{"cell":"muDC","marker":"CD-83","series":"stain","x":1.7,"y":2},{"cell":"muDC","marker":"CD-83","series":"stain","x":1.85,"y":0.5},{"cell":"muDC","marker":"CD-83","series":"stain","x":2.0,"y":0},
{"cell":"muDC","marker":"CD-86","series":"iso","x":0,"y":38},{"cell":"muDC","marker":"CD-86","series":"iso","x":0.02,"y":14},{"cell":"muDC","marker":"CD-86","series":"iso","x":0.15,"y":8},{"cell":"muDC","marker":"CD-86","series":"iso","x":0.3,"y":6},{"cell":"muDC","marker":"CD-86","series":"iso","x":0.4,"y":9},{"cell":"muDC","marker":"CD-86","series":"iso","x":0.5,"y":12},{"cell":"muDC","marker":"CD-86","series":"iso","x":0.6,"y":17},{"cell":"muDC","marker":"CD-86","series":"iso","x":0.7,"y":22},{"cell":"muDC","marker":"CD-86","series":"iso","x":0.8,"y":27},{"cell":"muDC","marker":"CD-86","series":"iso","x":0.9,"y":32},{"cell":"muDC","marker":"CD-86","series":"iso","x":0.98,"y":34.5},{"cell":"muDC","marker":"CD-86","series":"iso","x":1.05,"y":33},{"cell":"muDC","marker":"CD-86","series":"iso","x":1.12,"y":29},{"cell":"muDC","marker":"CD-86","series":"iso","x":1.2,"y":22},{"cell":"muDC","marker":"CD-86","series":"iso","x":1.3,"y":14},{"cell":"muDC","marker":"CD-86","series":"iso","x":1.4,"y":7},{"cell":"muDC","marker":"CD-86","series":"iso","x":1.55,"y":2},{"cell":"muDC","marker":"CD-86","series":"iso","x":1.7,"y":0.3},{"cell":"muDC","marker":"CD-86","series":"iso","x":1.8,"y":0},
{"cell":"muDC","marker":"CD-86","series":"stain","x":0,"y":0},{"cell":"muDC","marker":"CD-86","series":"stain","x":0.3,"y":2},{"cell":"muDC","marker":"CD-86","series":"stain","x":0.5,"y":5},{"cell":"muDC","marker":"CD-86","series":"stain","x":0.65,"y":9},{"cell":"muDC","marker":"CD-86","series":"stain","x":0.8,"y":15},{"cell":"muDC","marker":"CD-86","series":"stain","x":0.9,"y":21},{"cell":"muDC","marker":"CD-86","series":"stain","x":1.0,"y":28},{"cell":"muDC","marker":"CD-86","series":"stain","x":1.08,"y":33},{"cell":"muDC","marker":"CD-86","series":"stain","x":1.15,"y":35.5},{"cell":"muDC","marker":"CD-86","series":"stain","x":1.22,"y":36.5},{"cell":"muDC","marker":"CD-86","series":"stain","x":1.3,"y":33},{"cell":"muDC","marker":"CD-86","series":"stain","x":1.38,"y":26},{"cell":"muDC","marker":"CD-86","series":"stain","x":1.46,"y":17},{"cell":"muDC","marker":"CD-86","series":"stain","x":1.55,"y":9},{"cell":"muDC","marker":"CD-86","series":"stain","x":1.65,"y":4},{"cell":"muDC","marker":"CD-86","series":"stain","x":1.75,"y":1.5},{"cell":"muDC","marker":"CD-86","series":"stain","x":1.9,"y":0.3},{"cell":"muDC","marker":"CD-86","series":"stain","x":2.0,"y":0},
{"cell":"muDC","marker":"HLA-ABC","series":"iso","x":0,"y":40},{"cell":"muDC","marker":"HLA-ABC","series":"iso","x":0.02,"y":14},{"cell":"muDC","marker":"HLA-ABC","series":"iso","x":0.17,"y":8.5},{"cell":"muDC","marker":"HLA-ABC","series":"iso","x":0.28,"y":6.8},{"cell":"muDC","marker":"HLA-ABC","series":"iso","x":0.33,"y":12},{"cell":"muDC","marker":"HLA-ABC","series":"iso","x":0.38,"y":18},{"cell":"muDC","marker":"HLA-ABC","series":"iso","x":0.52,"y":21},{"cell":"muDC","marker":"HLA-ABC","series":"iso","x":0.73,"y":30},{"cell":"muDC","marker":"HLA-ABC","series":"iso","x":0.91,"y":36},{"cell":"muDC","marker":"HLA-ABC","series":"iso","x":1.03,"y":37.5},{"cell":"muDC","marker":"HLA-ABC","series":"iso","x":1.16,"y":32},{"cell":"muDC","marker":"HLA-ABC","series":"iso","x":1.3,"y":21},{"cell":"muDC","marker":"HLA-ABC","series":"iso","x":1.44,"y":10},{"cell":"muDC","marker":"HLA-ABC","series":"iso","x":1.61,"y":3},{"cell":"muDC","marker":"HLA-ABC","series":"iso","x":1.79,"y":0.5},{"cell":"muDC","marker":"HLA-ABC","series":"iso","x":1.95,"y":0},
{"cell":"muDC","marker":"HLA-ABC","series":"stain","x":0,"y":0},{"cell":"muDC","marker":"HLA-ABC","series":"stain","x":0.2,"y":3},{"cell":"muDC","marker":"HLA-ABC","series":"stain","x":0.38,"y":5.6},{"cell":"muDC","marker":"HLA-ABC","series":"stain","x":0.73,"y":12},{"cell":"muDC","marker":"HLA-ABC","series":"stain","x":1.09,"y":16},{"cell":"muDC","marker":"HLA-ABC","series":"stain","x":1.33,"y":19},{"cell":"muDC","marker":"HLA-ABC","series":"stain","x":1.39,"y":24},{"cell":"muDC","marker":"HLA-ABC","series":"stain","x":1.44,"y":30.6},{"cell":"muDC","marker":"HLA-ABC","series":"stain","x":1.49,"y":36},{"cell":"muDC","marker":"HLA-ABC","series":"stain","x":1.54,"y":41},{"cell":"muDC","marker":"HLA-ABC","series":"stain","x":1.63,"y":45},{"cell":"muDC","marker":"HLA-ABC","series":"stain","x":1.72,"y":46},{"cell":"muDC","marker":"HLA-ABC","series":"stain","x":1.79,"y":44},{"cell":"muDC","marker":"HLA-ABC","series":"stain","x":1.86,"y":40},{"cell":"muDC","marker":"HLA-ABC","series":"stain","x":1.93,"y":32},{"cell":"muDC","marker":"HLA-ABC","series":"stain","x":2.0,"y":24},{"cell":"muDC","marker":"HLA-ABC","series":"stain","x":2.07,"y":16},{"cell":"muDC","marker":"HLA-ABC","series":"stain","x":2.14,"y":10},{"cell":"muDC","marker":"HLA-ABC","series":"stain","x":2.22,"y":6},{"cell":"muDC","marker":"HLA-ABC","series":"stain","x":2.31,"y":3},{"cell":"muDC","marker":"HLA-ABC","series":"stain","x":2.4,"y":1.5},{"cell":"muDC","marker":"HLA-ABC","series":"stain","x":2.49,"y":1},{"cell":"muDC","marker":"HLA-ABC","series":"stain","x":2.6,"y":0.3},{"cell":"muDC","marker":"HLA-ABC","series":"stain","x":2.7,"y":0},
{"cell":"muDC","marker":"HLA-DR","series":"iso","x":0,"y":40},{"cell":"muDC","marker":"HLA-DR","series":"iso","x":0.02,"y":11},{"cell":"muDC","marker":"HLA-DR","series":"iso","x":0.17,"y":7.8},{"cell":"muDC","marker":"HLA-DR","series":"iso","x":0.28,"y":6.6},{"cell":"muDC","marker":"HLA-DR","series":"iso","x":0.38,"y":11},{"cell":"muDC","marker":"HLA-DR","series":"iso","x":0.49,"y":18},{"cell":"muDC","marker":"HLA-DR","series":"iso","x":0.61,"y":22},{"cell":"muDC","marker":"HLA-DR","series":"iso","x":0.73,"y":26},{"cell":"muDC","marker":"HLA-DR","series":"iso","x":0.91,"y":34.5},{"cell":"muDC","marker":"HLA-DR","series":"iso","x":1.05,"y":38.5},{"cell":"muDC","marker":"HLA-DR","series":"iso","x":1.19,"y":27.5},{"cell":"muDC","marker":"HLA-DR","series":"iso","x":1.33,"y":18},{"cell":"muDC","marker":"HLA-DR","series":"iso","x":1.47,"y":10},{"cell":"muDC","marker":"HLA-DR","series":"iso","x":1.65,"y":3.1},{"cell":"muDC","marker":"HLA-DR","series":"iso","x":1.82,"y":0.6},{"cell":"muDC","marker":"HLA-DR","series":"iso","x":1.95,"y":0},
{"cell":"muDC","marker":"HLA-DR","series":"stain","x":0,"y":0},{"cell":"muDC","marker":"HLA-DR","series":"stain","x":0.38,"y":0.6},{"cell":"muDC","marker":"HLA-DR","series":"stain","x":0.6,"y":1.4},{"cell":"muDC","marker":"HLA-DR","series":"stain","x":0.95,"y":5.5},{"cell":"muDC","marker":"HLA-DR","series":"stain","x":1.23,"y":10},{"cell":"muDC","marker":"HLA-DR","series":"stain","x":1.44,"y":13.6},{"cell":"muDC","marker":"HLA-DR","series":"stain","x":1.58,"y":18},{"cell":"muDC","marker":"HLA-DR","series":"stain","x":1.69,"y":23},{"cell":"muDC","marker":"HLA-DR","series":"stain","x":1.79,"y":33},{"cell":"muDC","marker":"HLA-DR","series":"stain","x":1.89,"y":35},{"cell":"muDC","marker":"HLA-DR","series":"stain","x":1.96,"y":36},{"cell":"muDC","marker":"HLA-DR","series":"stain","x":2.03,"y":36.8},{"cell":"muDC","marker":"HLA-DR","series":"stain","x":2.1,"y":35},{"cell":"muDC","marker":"HLA-DR","series":"stain","x":2.17,"y":33},{"cell":"muDC","marker":"HLA-DR","series":"stain","x":2.28,"y":27.5},{"cell":"muDC","marker":"HLA-DR","series":"stain","x":2.35,"y":29},{"cell":"muDC","marker":"HLA-DR","series":"stain","x":2.42,"y":25},{"cell":"muDC","marker":"HLA-DR","series":"stain","x":2.49,"y":20.5},{"cell":"muDC","marker":"HLA-DR","series":"stain","x":2.56,"y":14},{"cell":"muDC","marker":"HLA-DR","series":"stain","x":2.63,"y":9},{"cell":"muDC","marker":"HLA-DR","series":"stain","x":2.7,"y":6},{"cell":"muDC","marker":"HLA-DR","series":"stain","x":2.77,"y":3.7},{"cell":"muDC","marker":"HLA-DR","series":"stain","x":2.88,"y":2},{"cell":"muDC","marker":"HLA-DR","series":"stain","x":2.98,"y":1},{"cell":"muDC","marker":"HLA-DR","series":"stain","x":3.19,"y":0.3},{"cell":"muDC","marker":"HLA-DR","series":"stain","x":3.3,"y":0}
]
},
"spacing": 52,
"hconcat": [
{
"data": {"name": "mutz"},
"spacing": {"row": 30.5, "column": 0},
"facet": {
"row": {"field": "marker", "type": "nominal", "sort": ["CD-1a","CD-11c","CD-80","CD-83","CD-86","HLA-ABC","HLA-DR"], "header": {"title": null, "labelAngle": 0, "labelAlign": "left", "labelOrient": "left", "labelFontSize": 48, "labelFont": "Liberation Sans", "labelColor": "#000", "labelPadding": 58, "labelBaseline": "alphabetic"}},
"column": {"field": "cell", "type": "nominal", "header": {"title": null, "labelFontSize": 48, "labelFont": "Liberation Sans", "labelColor": "#000", "labelPadding": 80}}
},
"resolve": {"axis": {"x": "independent", "y": "independent"}},
"spec": {
"width": 190, "height": 184,
"encoding": {
"x": {"field": "x", "type": "quantitative", "scale": {"domain": [0, 4], "nice": false, "zero": false}, "axis": {"title": null, "values": [0,1,2,3,4], "labelExpr": "'10' + ['⁰','¹','²','³','⁴'][datum.value]", "labelFontSize": 10, "labelColor": "#555", "labelFlush": false, "labelPadding": 1, "domainColor": "#999", "tickColor": "#999", "tickSize": 3, "grid": false}},
"y": {"field": "y", "type": "quantitative", "scale": {"domain": [0, 120], "nice": false}, "axis": {"title": null, "values": [0,30,60,90,120], "labelExpr": "datum.value == 0 || datum.value == 120 ? datum.label : ''", "labelAngle": 270, "labelFontSize": 8, "labelColor": "#555", "labelFlush": false, "labelPadding": 2, "domainColor": "#999", "tickColor": "#999", "tickSize": 3, "grid": false}}
},
"layer": [
{"transform": [{"filter": "datum.series == 'iso'"}], "mark": {"type": "area", "fill": "#383838", "stroke": "#000", "strokeWidth": 0.8, "opacity": 1}},
{"transform": [{"filter": "datum.series == 'stain'"}], "mark": {"type": "line", "color": "#000", "strokeWidth": 1.4}}
]
}
},
{
"data": {"name": "mudc"},
"spacing": {"row": 30.5, "column": 0},
"facet": {
"row": {"field": "marker", "type": "nominal", "sort": ["CD-1a","CD-11c","CD-80","CD-83","CD-86","HLA-ABC","HLA-DR"], "header": {"title": null, "labels": false}},
"column": {"field": "cell", "type": "nominal", "header": {"title": null, "labelFontSize": 48, "labelFont": "Liberation Sans", "labelColor": "#000", "labelPadding": 80}}
},
"resolve": {"axis": {"x": "independent", "y": "independent"}},
"spec": {
"width": 190, "height": 184,
"encoding": {
"x": {"field": "x", "type": "quantitative", "scale": {"domain": [0, 4], "nice": false, "zero": false}, "axis": {"title": null, "values": [0,1,2,3,4], "labelExpr": "'10' + ['⁰','¹','²','³','⁴'][datum.value]", "labelFontSize": 10, "labelColor": "#555", "labelFlush": false, "labelPadding": 1, "domainColor": "#999", "tickColor": "#999", "tickSize": 3, "grid": false}},
"y": {"field": "y", "type": "quantitative", "scale": {"domain": [0, 64], "nice": false}, "axis": {"title": null, "values": [0,16,32,48,64], "labelExpr": "datum.value == 0 || datum.value == 64 ? datum.label : ''", "labelAngle": 270, "labelFontSize": 8, "labelColor": "#555", "labelFlush": false, "labelPadding": 2, "domainColor": "#999", "tickColor": "#999", "tickSize": 3, "grid": false}}
},
"layer": [
{"transform": [{"filter": "datum.series == 'iso'"}], "mark": {"type": "area", "fill": "#383838", "stroke": "#000", "strokeWidth": 0.8, "opacity": 1}},
{"transform": [{"filter": "datum.series == 'stain'"}], "mark": {"type": "line", "color": "#000", "strokeWidth": 1.4}}
]
}
}
]
}
